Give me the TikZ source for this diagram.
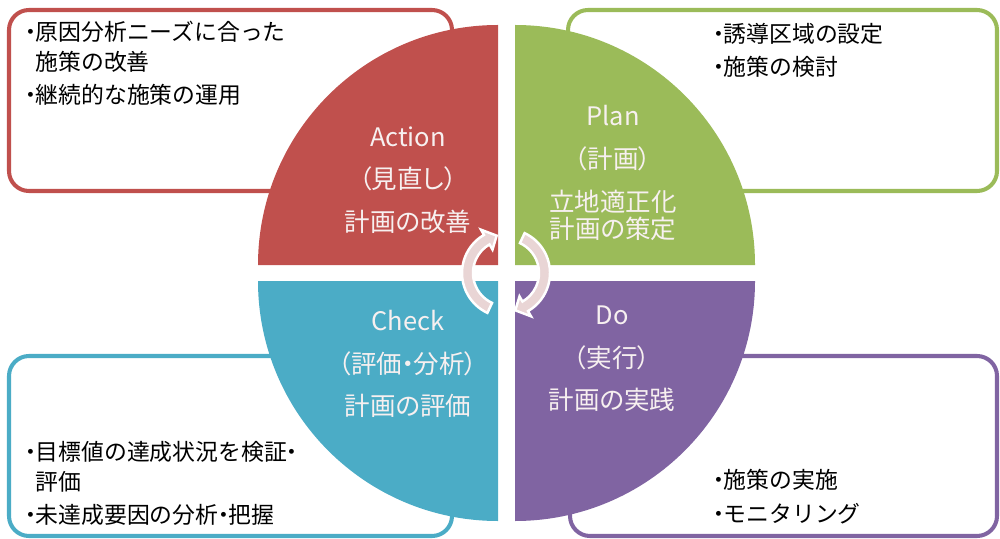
\documentclass[tikz,border=0pt]{standalone}
\usepackage{fontspec}
\setmainfont{Noto Sans CJK JP}
\newfontfamily\phasefont[RawFeature=+palt]{Noto Sans CJK JP}
\definecolor{actRed}{RGB}{192,80,77}
\definecolor{planGreen}{RGB}{155,187,89}
\definecolor{chkBlue}{RGB}{75,172,198}
\definecolor{doPurple}{RGB}{128,100,162}
\definecolor{arrowPink}{RGB}{233,213,213}
\definecolor{labelWhite}{RGB}{247,240,240}
\tikzstyle{noteBox}=[line width = 2.3pt, rounded corners = 0.4cm, fill = white]
\tikzstyle{noteText}=[anchor = north west, inner sep = 0pt, align = left, font = \fontsize{13pt}{17pt}\selectfont]
\tikzstyle{phaseText}=[inner sep = 0pt, align = center, text = labelWhite, font = \phasefont\fontsize{14.5pt}{15.3pt}\selectfont]
\newcommand{\bul}{\makebox[0.45em]{・}}

\begin{document}
\begin{tikzpicture}[x = 0.02cm, y = 0.02cm]
\useasboundingbox (0,0) rectangle (1000,538);
\draw[noteBox, draw = actRed] (9,347) rectangle (452,528);
\draw[noteBox, draw = planGreen] (568,347) rectangle (997,528);
\draw[noteBox, draw = chkBlue] (9,2) rectangle (452,182);
\draw[noteBox, draw = doPurple] (570,2) rectangle (997,182);
\fill[actRed] (498,273) -- (258,273) arc (180:90:240) -- cycle;
\fill[planGreen] (515,273) -- (515,513) arc (90:0:240) -- cycle;
\fill[chkBlue] (498,257) -- (258,257) arc (180:270:240) -- cycle;
\fill[doPurple] (515,257) -- (755,257) arc (0:-90:240) -- cycle;
\foreach \rot in {0,180}
  \filldraw[fill = arrowPink, draw = white, line width = 1.4pt, shift = {(506,265)}, rotate = \rot]
    (245:33) arc (245:120:33) -- (120:27) -- (104:38.5) -- (120:50) -- (120:44) arc (120:245:44) -- cycle;
\node[noteText] (actNote) at (25,517) {\bul 原因分析ニーズに合った\\\hspace*{0.45em}施策の改善\\[2pt]\bul 継続的な施策の運用};
\node[noteText] (planNote) at (713,515) {\bul 誘導区域の設定\\[2pt]\bul 施策の検討};
\node[noteText] (chkNote) at (25,97) {\bul 目標値の達成状況を検証\bul\\\hspace*{0.45em}評価\\[2pt]\bul 未達成要因の分析\bul 把握};
\node[noteText] (doNote) at (713,69) {\bul 施策の実施\\[2pt]\bul モニタリング};
\node[phaseText] (actLabel) at (408,358) {Action\\[9pt]（見直し）\\[9pt]計画の改善};
\node[phaseText] (planLabel) at (613,365) {Plan\\[9pt]（計画）\\[9pt]立地適正化\\計画の策定};
\node[phaseText] (chkLabel) at (408,174) {Check\\[9pt]（評価\bul 分析）\\[9pt]計画の評価};
\node[phaseText] (doLabel) at (612,179) {Do\\[9pt]（実行）\\[9pt]計画の実践};
%
\end{tikzpicture}
\end{document}
